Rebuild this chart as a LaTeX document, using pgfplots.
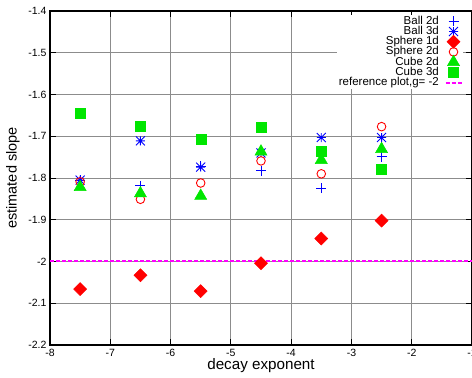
\documentclass[border=0pt]{standalone}
\usepackage{pgfplots}
\pgfplotsset{compat=1.18}
\usepackage{fontspec}
\setmainfont{Liberation Sans}
\pgfdeclareplotmark{gpstar}{%
  \pgfpathmoveto{\pgfqpoint{-\pgfplotmarksize}{0pt}}\pgfpathlineto{\pgfqpoint{\pgfplotmarksize}{0pt}}%
  \pgfpathmoveto{\pgfqpoint{0pt}{-\pgfplotmarksize}}\pgfpathlineto{\pgfqpoint{0pt}{\pgfplotmarksize}}%
  \pgfpathmoveto{\pgfqpoint{-\pgfplotmarksize}{-\pgfplotmarksize}}\pgfpathlineto{\pgfqpoint{\pgfplotmarksize}{\pgfplotmarksize}}%
  \pgfpathmoveto{\pgfqpoint{-\pgfplotmarksize}{\pgfplotmarksize}}\pgfpathlineto{\pgfqpoint{\pgfplotmarksize}{-\pgfplotmarksize}}%
  \pgfusepathqstroke}
\pgfdeclareplotmark{gpdiamond}{%
  \pgfpathmoveto{\pgfqpoint{0pt}{\pgfplotmarksize}}\pgfpathlineto{\pgfqpoint{\pgfplotmarksize}{0pt}}%
  \pgfpathlineto{\pgfqpoint{0pt}{-\pgfplotmarksize}}\pgfpathlineto{\pgfqpoint{-\pgfplotmarksize}{0pt}}%
  \pgfpathclose\pgfusepathqfillstroke}
\definecolor{gpgreen}{RGB}{0,230,0}
\definecolor{gpmagenta}{RGB}{255,0,255}
\begin{document}
\begin{tikzpicture}
\begin{axis}[
  set layers=standard,
  scale only axis, width=422pt, height=334pt,
  xmin=-8, xmax=-1, ymin=-2.2, ymax=-1.4,
  xtick={-8,-7,-6,-5,-4,-3,-2,-1},
  xticklabels={-8,-7,-6,-5,-4,-3,-2,-1},
  ytick={-2.2,-2.1,-2,-1.9,-1.8,-1.7,-1.6,-1.5,-1.4},
  yticklabels={-2.2,-2.1,-2,-1.9,-1.8,-1.7,-1.6,-1.5,-1.4},
  tick label style={font=\fontsize{10.5}{12}\selectfont},
  xticklabel style={yshift=-1pt},
  grid=major,
  major grid style={black!45, line width=0.8pt},
  axis line style={black, line width=1.2pt},
  tick style={black, line width=1pt},
  tick align=inside, major tick length=6pt,
  xlabel={decay exponent}, ylabel={estimated slope},
  every axis x label/.style={at={(axis description cs:0.5,-0.063)}, anchor=center, font=\fontsize{15.2}{17}\selectfont},
  every axis y label/.style={at={(axis description cs:-0.088,0.5)}, rotate=90, anchor=center, font=\fontsize{14.5}{17}\selectfont},
  legend plot pos=right,
  legend cell align=right,
  legend image code/.code={%
    \path[draw=none, fill=none] (-6pt,-3pt) rectangle (16pt,3pt);
    \draw[overlay, mark repeat=2, mark phase=2, #1] plot coordinates {(0pt,0pt) (8pt,0pt) (16pt,0pt)};},
  legend style={at={(rel axis cs:0.978,0.988)}, anchor=north east, draw=none, fill=white,
    font=\fontsize{11.5}{10}\selectfont, inner sep=1pt, row sep=0pt,
    nodes={inner sep=0.6pt, text height=7.4pt, text depth=1.6pt}},
]
\addplot[only marks, blue, mark=+, mark size=5pt, line width=0.9pt] coordinates {
  (-7.5,-1.805) (-6.5,-1.819) (-5.5,-1.772) (-4.5,-1.783) (-3.5,-1.825) (-2.5,-1.749)};
\addlegendentry{Ball 2d}
\addplot[only marks, blue, mark=gpstar, mark size=4.5pt, line width=0.9pt] coordinates {
  (-7.5,-1.805) (-6.5,-1.711) (-5.5,-1.774) (-4.5,-1.740) (-3.5,-1.703) (-2.5,-1.703)};
\addlegendentry{Ball 3d}
\addplot[only marks, red, mark=gpdiamond, mark size=6.5pt, line width=0.5pt, mark options={fill=red}] coordinates {
  (-7.5,-2.066) (-6.5,-2.033) (-5.5,-2.071) (-4.5,-2.004) (-3.5,-1.945) (-2.5,-1.902)};
\addlegendentry{Sphere 1d}
\addplot[only marks, red, mark=o, mark size=4.3pt, line width=0.9pt] coordinates {
  (-7.5,-1.809) (-6.5,-1.851) (-5.5,-1.812) (-4.5,-1.759) (-3.5,-1.790) (-2.5,-1.677)};
\addlegendentry{Sphere 2d}
\addplot[only marks, gpgreen, mark=triangle*, mark size=7pt, line width=0.5pt, mark options={fill=gpgreen}] coordinates {
  (-7.5,-1.822) (-6.5,-1.837) (-5.5,-1.843) (-4.5,-1.737) (-3.5,-1.757) (-2.5,-1.731)};
\addlegendentry{Cube 2d}
\addplot[only marks, gpgreen, mark=square*, mark size=5pt, line width=0.3pt, mark options={fill=gpgreen}] coordinates {
  (-7.5,-1.645) (-6.5,-1.675) (-5.5,-1.707) (-4.5,-1.679) (-3.5,-1.735) (-2.5,-1.778)};
\addlegendentry{Cube 3d}
\addplot[draw=gpmagenta, line width=2pt, dash pattern=on 4pt off 2pt, mark=none] coordinates {(-8,-2) (-1,-2)};
\addlegendentry{reference plot,g= -2}
\end{axis}
\pgfresetboundingbox
\path (-50pt,-33pt) rectangle (422pt,345pt);
\end{tikzpicture}
\end{document}
